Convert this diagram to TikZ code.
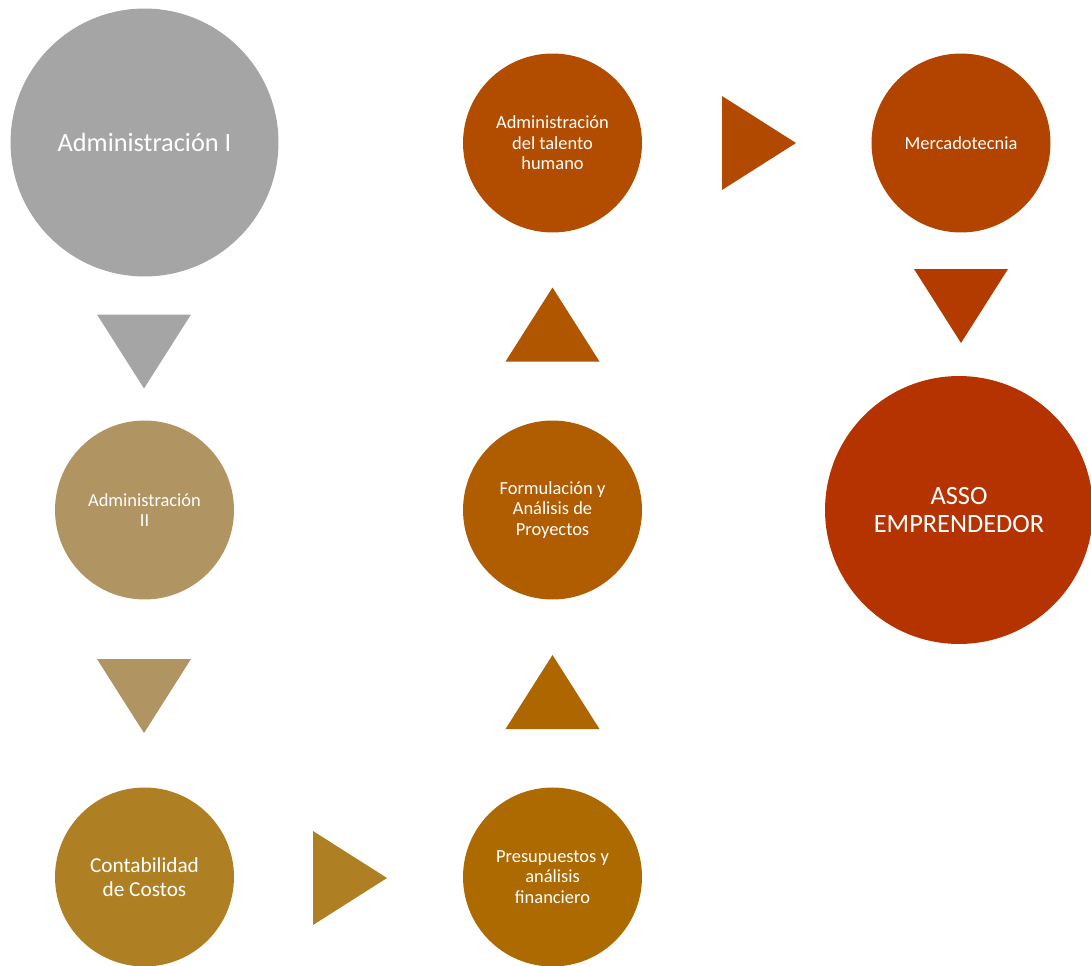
\documentclass[tikz,border=0pt]{standalone}
\usepackage{fontspec}
\setmainfont{Carlito}
\definecolor{grisA}{HTML}{A5A5A5}
\definecolor{tanA}{HTML}{B09462}
\definecolor{ocreA}{HTML}{AE7F23}
\definecolor{ocreB}{HTML}{AD6A00}
\definecolor{ocreC}{HTML}{B05C00}
\definecolor{rojoA}{HTML}{B24D00}
\definecolor{rojoB}{HTML}{B34400}
\definecolor{rojoC}{HTML}{B53300}
\begin{document}
\begin{tikzpicture}[x=0.02cm, y=-0.02cm]
        \tikzset{
            course/.style = {circle, inner sep = 0pt, minimum size = 3.58cm, text = white,
                             align = center, font = \fontsize{10.5}{11.7}\selectfont},
            big/.style    = {course, minimum size = 5.36cm, font = \fontsize{15}{16}\selectfont},
            tri/.style    = {shift = {#1}}
        }
        \useasboundingbox (0,0) rectangle (1091,966);
        % courses
        \node[big, fill = grisA] (ADM1) at (144.5,142.5) {Administración I};
        \node[course, fill = tanA] (ADM2) at (144.5,510) {Administración\\II};
        \node[course, fill = ocreA, font = \fontsize{12.1}{13.6}\selectfont] (COST) at (144.5,877) {Contabilidad\\de Costos};
        \node[course, fill = ocreB] (PRES) at (552.5,877) {Presupuestos y\\análisis\\financiero};
        \node[course, fill = ocreC] (FORM) at (552.5,510) {Formulación y\\Análisis de\\Proyectos};
        \node[course, fill = rojoA] (TAL) at (552.5,143) {Administración\\del talento\\humano};
        \node[course, fill = rojoB] (MERC) at (961,143) {Mercadotecnia};
        \node[big, fill = rojoC] (ASSO) at (959,510) {ASSO\\EMPRENDEDOR};

        % arrows between courses
        \fill[grisA, tri = {(144,351.5)}] (-47,-37) -- (47,-37) -- (0,37) -- cycle;
        \fill[tanA, tri = {(144,696)}] (-47,-37) -- (47,-37) -- (0,37) -- cycle;
        \fill[ocreA, tri = {(350,878)}] (-37,-47) -- (37,0) -- (-37,47) -- cycle;
        \fill[ocreB!70!ocreC, tri = {(552.5,692)}] (-47,37) -- (47,37) -- (0,-37) -- cycle;
        \fill[ocreC!60!rojoA, tri = {(552.5,324.5)}] (-47,37) -- (47,37) -- (0,-37) -- cycle;
        \fill[rojoA!60!rojoB, tri = {(759,143)}] (-37,-47) -- (37,0) -- (-37,47) -- cycle;
        \fill[rojoB!50!rojoC, tri = {(961,306)}] (-47,-37) -- (47,-37) -- (0,37) -- cycle;
    \end{tikzpicture}
\end{document}
